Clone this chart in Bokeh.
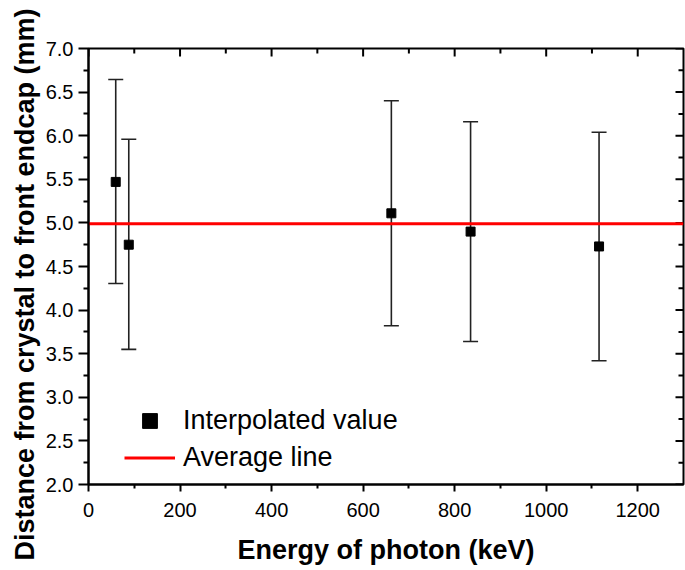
import math
from bokeh.plotting import figure
from bokeh.models import (Whisker, TeeHead, ColumnDataSource, Legend, LegendItem,
                          FixedTicker, PrintfTickFormatter, Title, Range1d)
from bokeh.embed import file_html
from bokeh.resources import INLINE

# ---- data ----
energy = [59.5, 88.0, 661.7, 834.8, 1115.5]          # keV
distance = [5.47, 4.75, 5.11, 4.90, 4.73]            # mm
err_upper = [6.645, 5.96, 6.40, 6.16, 6.04]
err_lower = [4.305, 3.55, 3.82, 3.64, 3.42]
average_value = 4.99
x_min, x_max = 0, 1300
y_min, y_max = 2.0, 7.0
x_major_ticks = [0, 200, 400, 600, 800, 1000, 1200]
x_minor_ticks = [100, 300, 500, 700, 900, 1100]
y_major_ticks = [2.0, 2.5, 3.0, 3.5, 4.0, 4.5, 5.0, 5.5, 6.0, 6.5, 7.0]
y_minor_ticks = [2.25, 2.75, 3.25, 3.75, 4.25, 4.75, 5.25, 5.75, 6.25, 6.75]

FONT = "Liberation Sans"

p = figure(frame_width=595, frame_height=436, output_backend="svg", toolbar_location=None,
           x_range=Range1d(x_min, x_max), y_range=Range1d(y_min, y_max),
           min_border_left=88, min_border_right=2, min_border_top=48, min_border_bottom=84,
           x_axis_label="Energy of photon (keV)")
p.xgrid.visible = False
p.ygrid.visible = False
p.outline_line_color = "black"
p.outline_line_width = 2
p.background_fill_color = "white"
p.border_fill_color = "white"

def style(ax):
    ax.axis_line_color = "black"
    ax.axis_line_width = 2
    ax.major_tick_line_color = "black"
    ax.major_tick_line_width = 2
    ax.minor_tick_line_color = "black"
    ax.minor_tick_line_width = 2
    ax.major_label_text_font = FONT
    ax.major_label_text_font_size = "20px"
    ax.major_label_text_color = "black"
    ax.axis_label_text_font = FONT
    ax.axis_label_text_font_size = "27px"
    ax.axis_label_text_font_style = "bold"
    ax.axis_label_text_color = "black"

xa = p.xaxis[0]
xa.ticker = FixedTicker(ticks=x_major_ticks, minor_ticks=x_minor_ticks)
style(xa)
xa.major_tick_out = 7
xa.major_tick_in = 0
xa.minor_tick_out = 4
xa.minor_tick_in = 0
xa.major_label_standoff = 11
xa.axis_label_standoff = 15

ya = p.yaxis[0]
ya.ticker = FixedTicker(ticks=y_major_ticks, minor_ticks=y_minor_ticks)
ya.formatter = PrintfTickFormatter(format="%.1f")
style(ya)
ya.major_tick_out = 10
ya.major_tick_in = 0
ya.minor_tick_out = 5
ya.minor_tick_in = 0
ya.major_label_standoff = 5

# inward ticks on the top and right frame edges (half of each dash is clipped by the frame)
p.scatter(x=x_major_ticks, y=[y_max] * len(x_major_ticks), marker="dash", angle=math.pi / 2,
          size=16, line_color="black", line_width=2)
p.scatter(x=x_minor_ticks, y=[y_max] * len(x_minor_ticks), marker="dash", angle=math.pi / 2,
          size=10, line_color="black", line_width=2)
p.scatter(x=[x_max] * len(y_major_ticks), y=y_major_ticks, marker="dash",
          size=16, line_color="black", line_width=2)
p.scatter(x=[x_max] * len(y_minor_ticks), y=y_minor_ticks, marker="dash",
          size=10, line_color="black", line_width=2)

# y title as a side title, starting below the frame bottom like the reference
ytitle = Title(text="Distance from crystal to front endcap (mm)", align="left",
               text_font=FONT, text_font_size="27px", text_font_style="bold",
               text_color="black", offset=-76, standoff=6)
p.add_layout(ytitle, "left")

# average line
avg_line = p.line(x=[x_min, x_max], y=[average_value, average_value],
                  line_color="#ff0000", line_width=3)

src = ColumnDataSource(data=dict(x=energy, y=distance, up=err_upper, lo=err_lower))
wh = Whisker(source=src, base="x", upper="up", lower="lo", line_color="#222222", line_width=1.6,
             upper_head=TeeHead(size=15, line_color="#222222", line_width=1.6),
             lower_head=TeeHead(size=15, line_color="#222222", line_width=1.6))
p.add_layout(wh)
pts = p.scatter(x="x", y="y", source=src, marker="square", size=9, fill_color="black",
                line_color="black")

legend = Legend(items=[LegendItem(label="Interpolated value", renderers=[pts]),
                       LegendItem(label="Average line", renderers=[avg_line])],
                location=(36, 8), glyph_width=51, glyph_height=37, label_height=37,
                label_standoff=8, spacing=0, padding=0, margin=0,
                border_line_color=None, background_fill_alpha=0,
                label_text_font=FONT, label_text_font_size="27px", label_text_color="black")
p.add_layout(legend)

open("out.html", "w").write(file_html(p, INLINE))
